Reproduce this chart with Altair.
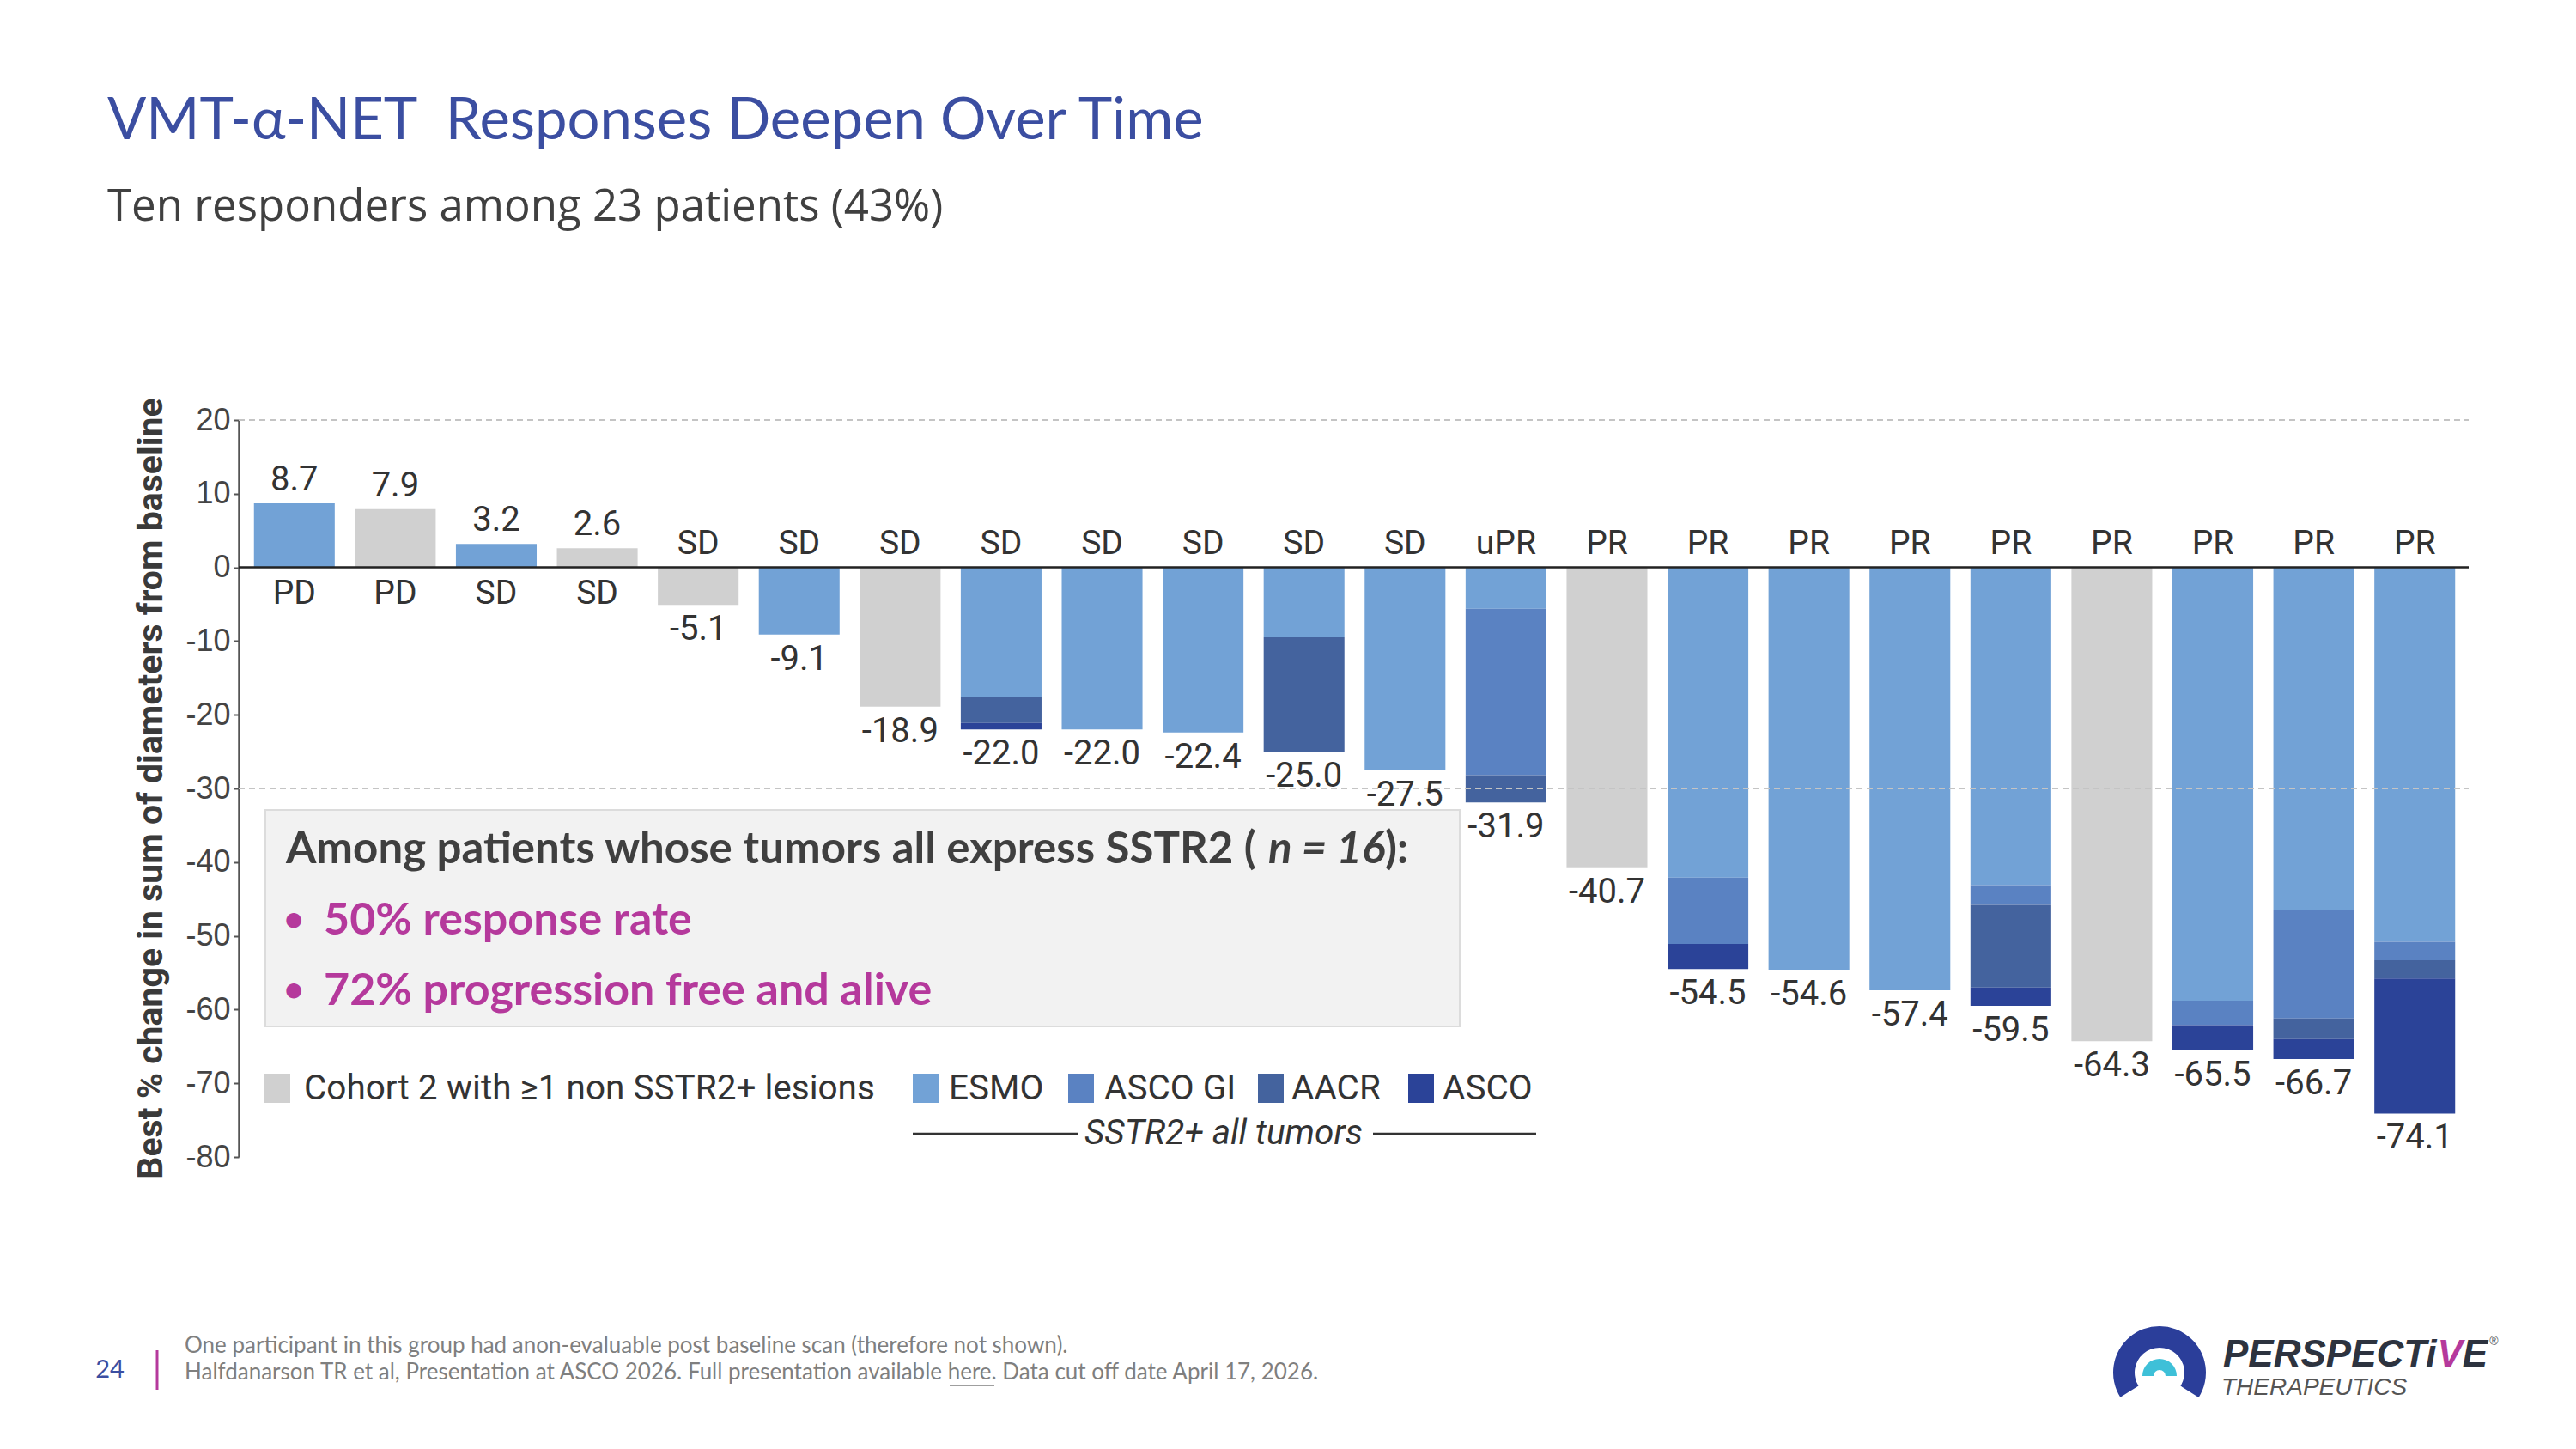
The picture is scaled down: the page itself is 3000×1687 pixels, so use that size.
import altair as alt
import pandas as pd

# ---------------- data ----------------
patient_idx = list(range(22))
best_change = [8.7, 7.9, 3.2, 2.6, -5.1, -9.1, -18.9, -22.0, -22.0, -22.4, -25.0, -27.5,
               -31.9, -40.7, -54.5, -54.6, -57.4, -59.5, -64.3, -65.5, -66.7, -74.1]
response = ["PD", "PD", "SD", "SD", "SD", "SD", "SD", "SD", "SD", "SD", "SD", "SD",
            "uPR", "PR", "PR", "PR", "PR", "PR", "PR", "PR", "PR", "PR"]
cohort2 = [False, True, False, True, True, False, True, False, False, False, False, False,
           False, True, False, False, False, False, True, False, False, False]
# depth reached at each data cut (SSTR2+ all tumors); None = cohort 2 patient
esmo_depth = [8.7, None, 3.2, None, None, -9.1, None, -17.6, -22.0, -22.4, -9.5, -27.5,
              -5.6, None, -42.1, -54.6, -57.4, -43.1, None, -58.8, -46.5, -50.8]
ascogi_depth = [8.7, None, 3.2, None, None, -9.1, None, -17.6, -22.0, -22.4, -9.5, -27.5,
                -28.2, None, -51.1, -54.6, -57.4, -45.8, None, -62.1, -61.2, -53.3]
aacr_depth = [8.7, None, 3.2, None, None, -9.1, None, -21.1, -22.0, -22.4, -25.0, -27.5,
              -31.9, None, -51.1, -54.6, -57.4, -57.0, None, -62.1, -64.0, -55.8]
asco_depth = best_change

categories = ["Cohort 2 with \u22651 non SSTR2+ lesions", "ESMO", "ASCO GI", "AACR", "ASCO"]
cat_colors = ["#d0d0d0", "#72a2d6", "#5a82c2", "#44639e", "#2b4398"]
y_ticks = [20, 10, 0, -10, -20, -30, -40, -50, -60, -70, -80]
grid_values = [20, -30]

title_text = "VMT-\u03b1-NET\u00a0 Responses Deepen Over Time"
subtitle_text = "Ten responders among 23 patients (43%)"
y_title = "Best % change in sum of diameters from baseline"
box_line1 = ["Among patients whose tumors all express SSTR2 (", "n = 16", "):"]
box_bullets = ["50% response rate", "72% progression free and alive"]
footnote1 = "One participant in this group had anon-evaluable post baseline scan (therefore not shown)."
footnote2 = "Halfdanarson TR et al, Presentation at ASCO 2026. Full presentation available here. Data cut off date April 17, 2026."
page_no = "24"

# ---------------- tables ----------------
seg_rows = []
for i in patient_idx:
    if cohort2[i]:
        seg_rows.append(dict(idx=i, start=0.0, end=best_change[i], cat=categories[0]))
    else:
        depths = [0.0, esmo_depth[i], ascogi_depth[i], aacr_depth[i], asco_depth[i]]
        for k in range(4):
            if depths[k + 1] != depths[k]:
                seg_rows.append(dict(idx=i, start=depths[k], end=depths[k + 1], cat=categories[k + 1]))
segs = pd.DataFrame(seg_rows)

lab = pd.DataFrame({"idx": patient_idx, "value": best_change, "resp": response,
                    "txt": [f"{v:.1f}" for v in best_change]})
pos = lab[lab.value > 0]
neg = lab[lab.value < 0]

# ---------------- layout (page origin of plot area) ----------------
OX, OY = 278, 489          # page position of the plot area's top-left corner
W, H = 2597, 858
PAD = {"left": OX - 8, "top": OY - 8, "right": 2992 - OX - W, "bottom": 1679 - OY - H}


def px(x):
    return x - OX


def py(y):
    return y - OY


xscale = alt.Scale(domain=patient_idx, range=[6, 2593], paddingInner=0.2, paddingOuter=0.1)
yscale = alt.Scale(domain=[-80, 20], nice=False, zero=False)
yaxis = alt.Axis(values=y_ticks, grid=False, domainColor="#555", domainWidth=2.5,
                 tickColor="#555", tickWidth=2, tickSize=6, labelFont="Liberation Sans",
                 labelFontSize=36, labelColor="#444", labelPadding=4,
                 labelExpr="'' + datum.value")
X = alt.X("idx:O", scale=xscale, axis=None)


def Y(field):
    return alt.Y(field, scale=yscale, axis=yaxis, title=None)


bars = alt.Chart(segs).mark_bar().encode(
    x=X,
    y=Y("start:Q"),
    y2="end:Q",
    color=alt.Color("cat:N", scale=alt.Scale(domain=categories, range=cat_colors), legend=None),
)

grid = alt.Chart(pd.DataFrame({"v": grid_values})).mark_rule(
    color="#c4c4c4", strokeDash=[7, 5], strokeWidth=2
).encode(y=Y("v:Q"), x=alt.value(0), x2=alt.value(W))

zero = alt.Chart(pd.DataFrame({"v": [0]})).mark_rule(color="#222", strokeWidth=2.5).encode(
    y=Y("v:Q"), x=alt.value(0), x2=alt.value(W))

tfont = dict(font="Roboto", fontSize=40, color="#333")
val_neg = alt.Chart(neg).mark_text(baseline="top", dy=9, **tfont).encode(
    x=X, y=Y("value:Q"), text="txt:N")
val_pos = alt.Chart(pos).mark_text(baseline="bottom", dy=-7, **tfont).encode(
    x=X, y=Y("value:Q"), text="txt:N")
resp_neg = alt.Chart(neg.assign(z=0)).mark_text(baseline="bottom", dy=-8, font="Roboto",
                                                fontSize=39, color="#333").encode(
    x=X, y=Y("z:Q"), text="resp:N")
resp_pos = alt.Chart(pos.assign(z=0)).mark_text(baseline="top", dy=11, font="Roboto",
                                                fontSize=39, color="#333").encode(
    x=X, y=Y("z:Q"), text="resp:N")


def label(text, x, y, size, color="#333", font="Roboto", weight="normal", style="normal",
          align="left", angle=None, baseline="middle"):
    kw = dict(align=align, baseline=baseline, font=font, fontSize=size, fontWeight=weight,
              fontStyle=style, color=color)
    if angle is not None:
        kw["angle"] = angle
    return alt.Chart(alt.Data(values=[{"t": text}])).mark_text(**kw).encode(
        x=alt.value(px(x)), y=alt.value(py(y)), text="t:N")


def box(x, x2, y, y2, color, stroke=None):
    kw = dict(color=color)
    if stroke:
        kw.update(stroke=stroke, strokeWidth=2)
    return alt.Chart(alt.Data(values=[{}])).mark_rect(**kw).encode(
        x=alt.value(px(x)), x2=alt.value(px(x2)), y=alt.value(py(y)), y2=alt.value(py(y2)))


def hline(x, x2, y, color, w=2):
    return alt.Chart(alt.Data(values=[{}])).mark_rule(color=color, strokeWidth=w).encode(
        x=alt.value(px(x)), x2=alt.value(px(x2)), y=alt.value(py(y)))


deco = []
# titles
deco.append(label(title_text, 125, 142, 67, color="#3b4ea1", font="Lato"))
deco.append(label(subtitle_text, 125, 242, 51, color="#404040", font="Open Sans"))
deco.append(label(y_title, 177, 918, 41, color="#3a3a3a", weight="bold", angle=270, align="center"))

# annotation box
bf = 51
deco.append(box(309, 1700, 943, 1195, "#f2f2f2", stroke="#dcdcdc"))
deco.append(label(box_line1[0], 333, 990, bf, color="#3f3f3f", font="Lato", weight="bold"))
deco.append(label(box_line1[1], 1477, 990, bf, color="#3f3f3f", font="Lato", weight="bold", style="italic"))
deco.append(label(box_line1[2], 1613, 990, bf, color="#3f3f3f", font="Lato", weight="bold"))
for t, yy in zip(box_bullets, [1072, 1154]):
    deco.append(label("\u2022", 342, yy, 40, color="#b5399c", font="Lato", weight="bold", align="center"))
    deco.append(label(t, 377, yy, 52, color="#b5399c", font="Lato", weight="bold"))

# legend
sym_x = [308, 1063, 1244, 1465, 1640]
txt_x = [354, 1105, 1286, 1504, 1680]
for c, col, sx, tx in zip(categories, cat_colors, sym_x, txt_x):
    deco.append(box(sx, sx + 30, 1250, 1284, col))
    deco.append(label(c, tx, 1268, 40.5, color="#333"))
deco.append(hline(1063, 1256, 1320, "#333", 2.5))
deco.append(hline(1599, 1789, 1320, "#333", 2.5))
deco.append(label("SSTR2+ all tumors", 1425, 1320, 40.5, color="#333", style="italic", align="center"))

# footer
deco.append(label(page_no, 128, 1595, 29, color="#3b4ea1", font="Lato", align="center"))
deco.append(alt.Chart(alt.Data(values=[{}])).mark_rule(color="#b5399c", strokeWidth=3).encode(
    x=alt.value(px(183)), y=alt.value(py(1572)), y2=alt.value(py(1618))))
deco.append(label(footnote1, 215, 1567, 26, color="#7f7f7f", font="Lato"))
deco.append(label(footnote2, 215, 1598, 26, color="#7f7f7f", font="Lato"))
deco.append(hline(1106, 1158, 1613, "#7f7f7f", 1.5))

# logo
deco.append(alt.Chart(alt.Data(values=[{}])).mark_arc(
    x=px(2515), y=py(1598), radius=54, radius2=29, theta=4.15, theta2=8.42, color="#2b3e9a"
).encode(color=alt.value("#2b3e9a")))
deco.append(alt.Chart(alt.Data(values=[{}])).mark_arc(
    x=px(2515), y=py(1602), radius=20, radius2=7, theta=4.712, theta2=7.854, color="#3ec0d8"
).encode(color=alt.value("#3ec0d8")))
lx, ly, lf = 2589, 1578, 44
deco.append(label("PERSPECTi", lx, ly, lf, color="#2d333f", font="Liberation Sans", weight="bold", style="italic"))
deco.append(label("V", lx + 5.668 * lf, ly, lf, color="#b5399c", font="Liberation Sans", weight="bold", style="italic"))
deco.append(label("E", lx + 6.335 * lf, ly, lf, color="#2d333f", font="Liberation Sans", weight="bold", style="italic"))
deco.append(label("\u00ae", lx + 7.05 * lf, ly - 16, 14, color="#555", font="Liberation Sans"))
deco.append(label("THERAPEUTICS", 2587, 1616, 28, color="#555", font="Liberation Sans", style="italic"))

chart = alt.layer(bars, grid, zero, val_neg, val_pos, resp_neg, resp_pos, *deco).properties(
    width=W, height=H, padding=PAD, autosize=alt.AutoSizeParams(type="none"), background="white"
).configure_view(strokeWidth=0)

chart.save("out.html", embed_options={"renderer": "svg", "actions": False})
